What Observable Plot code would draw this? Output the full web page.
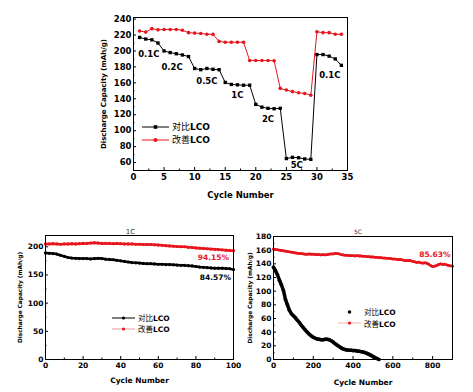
<!DOCTYPE html>
<html><head><meta charset="utf-8">
<script src="https://cdn.jsdelivr.net/npm/d3@7"></script>
<script src="https://cdn.jsdelivr.net/npm/@observablehq/plot@0.6"></script>
<style>
html,body{margin:0;padding:0;background:#fff;}
body{width:473px;height:392px;overflow:hidden;position:relative;font-family:"DejaVu Sans",sans-serif;}
.panel{position:absolute;}
.leg{position:absolute;display:flex;align-items:center;white-space:nowrap;color:#000;}
.leg .lco{font-weight:bold;font-family:"DejaVu Sans",sans-serif;}
.leg .zh{font-family:"Noto Sans CJK SC",sans-serif;}
</style></head><body>
<div id="p1" class="panel" style="left:0;top:0"></div>
<div id="p2" class="panel" style="left:0;top:220px"></div>
<div id="p3" class="panel" style="left:240px;top:220px"></div>
<div id="legends"></div>
<script>
// ---------- data ----------
const seriesNames = ["对比LCO", "改善LCO"];
const RED = "#e8141c";

// Rate capability (top)
const rateCycles = d3.range(1, 35);
const rateBase = [217,215,214,210,200,198,196.5,195,193,178,176.5,178,177,176.5,160.5,158,157.5,157,157,133,129.5,128,127.5,128,65,66.5,66,64.5,64,195.5,195.5,193.5,190,182];
const rateImproved = [225,223.7,228,226.5,227,227,227,226,223,222.4,222,221,220.8,212,211,211,211,211,188,188,188,188,187.7,153,151,149,147.5,146.7,144.5,224,223,223,221,221];
const rateLabels = [
  {text:"0.1C", cycle:2.5, cap:196},
  {text:"0.2C", cycle:6.3, cap:179},
  {text:"0.5C", cycle:12, cap:162},
  {text:"1C", cycle:17, cap:144.6},
  {text:"2C", cycle:22, cap:114.6},
  {text:"5C", cycle:26.7, cap:57},
  {text:"0.1C", cycle:32.1, cap:169}
];
const rateXTicks = [0,5,10,15,20,25,30,35];
const rateYTicks = [60,80,100,120,140,160,180,200,220,240];

// 1C cycling (bottom left), every 2 cycles
const c1Cycles = d3.range(0, 101, 2);
const c1Base = [189,188.5,188,187,185,183,181,180,179.5,179,179,179,178.5,179,179.5,179,178,177.5,177,176,175,174,173,172,171.5,171,170.5,170,170,169.5,169,169,168.5,168.5,168,167.5,167,167,166.5,166,165,164,163.5,163,162.5,162,162,162,161.5,161,159.5];
const c1Improved = [205,205,205.5,205,204.5,205,205,205.5,205,205.5,206,206,206.5,207,206.5,206,206,206,205.5,206,205.5,205,205,205,204.5,204.5,204,204,204,203.5,203,202.5,202,201.5,201,200.5,200,200,199,198.5,198,197.5,197,196.5,196,195.5,195,194.5,194,193.5,193];
const c1XTicks = [0,20,40,60,80,100];
const c1YTicks = [0,50,100,150,200];
const c1Notes = [
  {text:"94.15%", cycle:89.3, cap:180, color:RED},
  {text:"84.57%", cycle:90.4, cap:146, color:"#000"}
];

// 5C cycling (bottom right), every 10 cycles
const c5CyclesImproved = d3.range(0, 901, 10);
const c5Improved = [161.5,161,160.5,160,159.5,159,158.5,158,157.5,157,156.5,156,155.5,155,155,154.5,154,154,154.5,154,154,153.5,153.5,153.5,153,153.5,153,153.5,154,154.5,154.5,155,155,154.5,153.5,153,152.5,152.5,152,152,152,151.5,152,151.5,151.5,151,151,150.5,150.5,150,150,149.5,149.5,149,149,148.5,148.5,148,148,147.5,147,147,146.5,146,146.5,145.5,145,144.5,145,144.5,143.5,143,142,142.5,141.5,141,141.5,141,139.5,137.5,136,136.5,137.5,139,140,139,139.5,138.5,137.5,137,136.5];
const c5CyclesBase = d3.range(0, 531, 10);
const c5Base = [135,130,124,116,109,101,88,80,72,67,64,61,57.5,54,50,46.5,43,40,37,34.5,32.5,31,30,29.5,29,29,29.5,29.5,29,27.5,25.5,23,21,19,17,15.5,14.5,14,13.5,13.5,13,13,12.5,12,11.5,11,10,9,7.5,6,4.5,3,1.5,0];
const c5XTicks = [0,200,400,600,800];
const c5YTicks = [0,20,40,60,80,100,120,140,160,180];
const c5Notes = [{text:"85.63%", cycle:811, cap:153, color:RED}];

// ---------- helpers ----------
const FONT = "DejaVu Sans";
function axes(xt, xminor, yt, yminor, fs) {
  return [
    Plot.axisX({ticks: xt, tickSize: -3, tickPadding: 6, label: null, fontSize: fs, fontWeight: "bold"}),
    Plot.axisX({ticks: xminor, tickSize: -1.5, tickPadding: 0, tickFormat: () => "", label: null}),
    Plot.axisY({ticks: yt, tickSize: -3, tickPadding: 5, label: null, fontSize: fs, fontWeight: "bold"}),
    Plot.axisY({ticks: yminor, tickSize: -1.5, tickPadding: 0, tickFormat: () => "", label: null})
  ];
}
const baseStyle = {fontFamily: FONT, fontSize: "8px", background: "transparent", overflow: "visible", color: "#000"};
function yLabel(dx, fs) {
  return Plot.text(["Discharge Capacity (mAh/g)"], {text: d => d, frameAnchor: "left", textAnchor: "middle", lineAnchor: "middle", dx, rotate: -90, fontSize: fs, fontWeight: "bold"});
}
function xLabel(dy, fs) {
  return Plot.text(["Cycle Number"], {text: d => d, frameAnchor: "bottom", textAnchor: "middle", lineAnchor: "middle", dy, fontSize: fs, fontWeight: "bold"});
}

// ---------- top chart ----------
const rateRows = rateCycles.map((c, i) => ({cycle: c, base: rateBase[i], imp: rateImproved[i]}));
const p1 = Plot.plot({
  width: 360, height: 205,
  marginLeft: 133, marginRight: 13, marginTop: 17, marginBottom: 35,
  x: {domain: [0, 35]}, y: {domain: [50, 242]},
  style: baseStyle,
  marks: [
    ...axes(rateXTicks, d3.range(2.5, 35, 5), rateYTicks, d3.range(70, 240, 20), 8.5),
    Plot.line(rateRows, {x: "cycle", y: "imp", stroke: RED, strokeWidth: 1}),
    Plot.dot(rateRows, {x: "cycle", y: "imp", r: 1.8, fill: RED}),
    Plot.line(rateRows, {x: "cycle", y: "base", stroke: "#000", strokeWidth: 1}),
    Plot.dot(rateRows, {x: "cycle", y: "base", symbol: "square", r: 1.9, fill: "#000"}),
    Plot.text(rateLabels, {x: "cycle", y: "cap", text: "text", fontSize: 8.5, fontWeight: "bold", fill: "#000"}),
    Plot.frame({stroke: "#000", strokeWidth: 1}),
    xLabel(25, 8.5),
    yLabel(-30, 7)
  ]
});
document.getElementById("p1").appendChild(p1);

// ---------- 1C chart ----------
const c1Rows = c1Cycles.map((c, i) => ({cycle: c, base: c1Base[i], imp: c1Improved[i]}));
const p2 = Plot.plot({
  width: 240, height: 172,
  marginLeft: 45, marginRight: 7, marginTop: 15, marginBottom: 33,
  x: {domain: [0, 100]}, y: {domain: [0, 220]},
  style: baseStyle,
  marks: [
    ...axes(c1XTicks, d3.range(10, 100, 20), c1YTicks, d3.range(25, 220, 50), 7.5),
    Plot.line(c1Rows, {x: "cycle", y: "imp", stroke: RED, strokeWidth: 2.5}),
    Plot.dot(c1Rows, {x: "cycle", y: "imp", r: 1.6, fill: RED}),
    Plot.line(c1Rows, {x: "cycle", y: "base", stroke: "#000", strokeWidth: 2.5}),
    Plot.dot(c1Rows, {x: "cycle", y: "base", r: 1.6, fill: "#000"}),
    Plot.text(c1Notes, {x: "cycle", y: "cap", text: "text", fill: "color", fontSize: 7.5, fontWeight: "bold"}),
    Plot.frame({stroke: "#000", strokeWidth: 1}),
    Plot.text(["1C"], {text: d => d, frameAnchor: "top", textAnchor: "middle", dy: -6, dx: -9, fontSize: 7, fill: "#333"}),
    xLabel(21, 7.5),
    yLabel(-25, 5.8)
  ]
});
document.getElementById("p2").appendChild(p2);

// ---------- 5C chart ----------
const c5ImpRows = c5CyclesImproved.map((c, i) => ({cycle: c, cap: c5Improved[i]}));
const c5BaseRows = c5CyclesBase.map((c, i) => ({cycle: c, cap: c5Base[i]}));
const p3 = Plot.plot({
  width: 233, height: 172,
  marginLeft: 33, marginRight: 21, marginTop: 16, marginBottom: 33,
  x: {domain: [0, 900]}, y: {domain: [0, 180]},
  style: baseStyle,
  marks: [
    ...axes(c5XTicks, d3.range(100, 900, 200), c5YTicks, d3.range(10, 180, 20), 7.5),
    Plot.line(c5ImpRows, {x: "cycle", y: "cap", stroke: RED, strokeWidth: 2.5}),
    Plot.dot(c5ImpRows, {x: "cycle", y: "cap", r: 1.4, fill: RED}),
    Plot.line(c5BaseRows, {x: "cycle", y: "cap", stroke: "#000", strokeWidth: 3.5}),
    Plot.dot(c5BaseRows, {x: "cycle", y: "cap", r: 1.8, fill: "#000"}),
    Plot.text(c5Notes, {x: "cycle", y: "cap", text: "text", fill: "color", fontSize: 7.5, fontWeight: "bold"}),
    Plot.frame({stroke: "#000", strokeWidth: 1}),
    Plot.text(["5C"], {text: d => d, frameAnchor: "top", textAnchor: "middle", dy: -7, dx: -5, fontSize: 6, fill: "#333"}),
    xLabel(23, 7.5),
    yLabel(-23, 5.8)
  ]
});
document.getElementById("p3").appendChild(p3);

// ---------- legends (HTML overlays) ----------
function swatch(color, lineColor, symbol, w, size) {
  const ns = "http://www.w3.org/2000/svg";
  const s = document.createElementNS(ns, "svg");
  s.setAttribute("width", w); s.setAttribute("height", 8);
  if (lineColor) {
    const l = document.createElementNS(ns, "line");
    l.setAttribute("x1", 0); l.setAttribute("x2", w); l.setAttribute("y1", 4); l.setAttribute("y2", 4);
    l.setAttribute("stroke", lineColor); l.setAttribute("stroke-width", 1);
    s.appendChild(l);
  }
  let m;
  if (symbol === "square") {
    m = document.createElementNS(ns, "rect");
    m.setAttribute("x", w / 2 - size); m.setAttribute("y", 4 - size);
    m.setAttribute("width", size * 2); m.setAttribute("height", size * 2);
  } else {
    m = document.createElementNS(ns, "circle");
    m.setAttribute("cx", w / 2); m.setAttribute("cy", 4); m.setAttribute("r", size);
  }
  m.setAttribute("fill", color);
  s.appendChild(m);
  return s;
}
function addLegend(left, top, fs, gap, entries) {
  entries.forEach((e, i) => {
    const d = document.createElement("div");
    d.className = "leg";
    d.style.left = left + "px";
    d.style.top = (top + i * gap) + "px";
    d.style.fontSize = fs + "px";
    d.appendChild(swatch(e.color, e.line, e.symbol, e.w, e.size));
    const t = document.createElement("span");
    t.style.marginLeft = "3px";
    const name = seriesNames[e.k];
    t.innerHTML = `<span class="zh">${name.slice(0, 2)}</span><span class="lco">${name.slice(2)}</span>`;
    d.appendChild(t);
    document.getElementById("legends").appendChild(d);
  });
}
addLegend(142, 120, 9, 13.4, [
  {k: 0, color: "#000", line: "#000", symbol: "square", w: 27, size: 1.8},
  {k: 1, color: RED, line: RED, symbol: "circle", w: 27, size: 2}
]);
addLegend(112, 312, 7.5, 11, [
  {k: 0, color: "#000", line: "#000", symbol: "circle", w: 23, size: 1.6},
  {k: 1, color: RED, line: "#f29a9a", symbol: "circle", w: 23, size: 1.6}
]);
addLegend(338, 306, 7.5, 11.6, [
  {k: 0, color: "#000", line: null, symbol: "circle", w: 23, size: 1.8},
  {k: 1, color: RED, line: "#f5b0b0", symbol: "circle", w: 23, size: 1.6}
]);
</script>
</body></html>
